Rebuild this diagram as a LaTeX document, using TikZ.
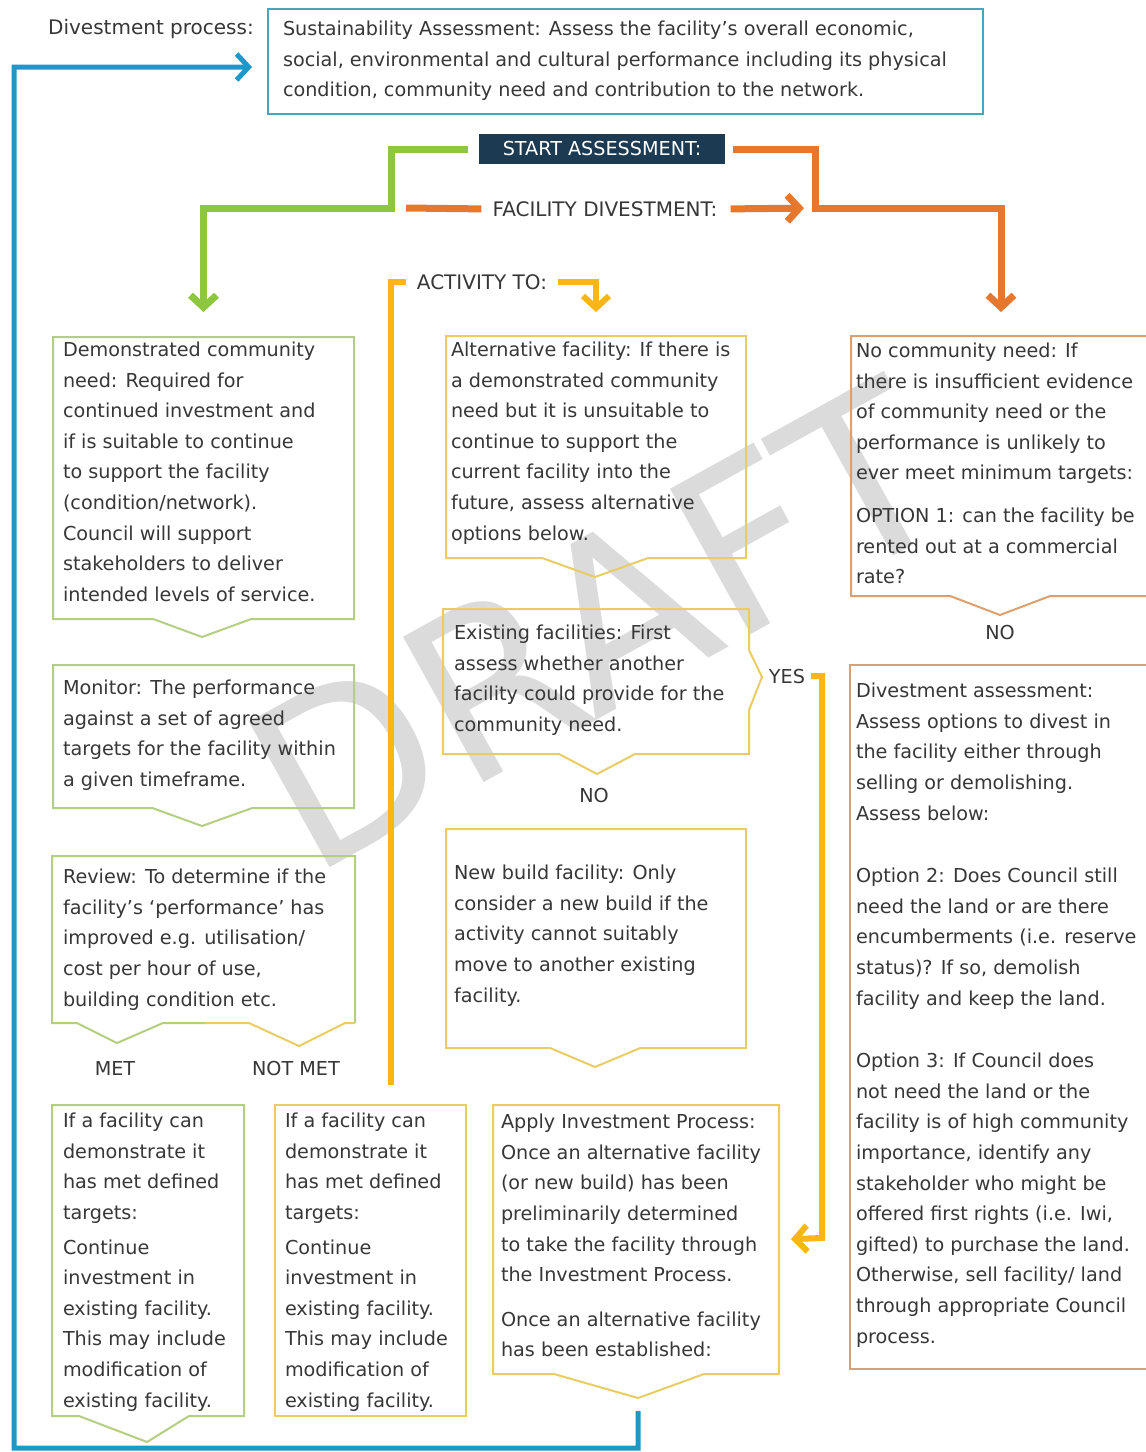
\documentclass[tikz,border=0pt]{standalone}
\usepackage{fontspec}
\setmainfont{DejaVu Sans}
\usepackage{xcolor}
\usetikzlibrary{arrows.meta,positioning,shapes.callouts}
\definecolor{ink}{RGB}{55,55,55}
\definecolor{navy}{RGB}{28,58,82}
\definecolor{leaf}{RGB}{141,198,63}
\definecolor{leafedge}{RGB}{180,206,130}
\definecolor{rust}{RGB}{232,119,46}
\definecolor{rustedge}{RGB}{220,160,112}
\definecolor{gold}{RGB}{249,182,21}
\definecolor{goldedge}{RGB}{233,205,98}
\definecolor{sea}{RGB}{27,154,201}
\definecolor{seaedge}{RGB}{74,164,188}
\tikzset{
  panel/.style n args={4}{inner sep=0pt,anchor=north west,text=ink,line width=2pt,
    execute at begin node={\begin{minipage}[c][#2][t]{#1}\fontsize{19.2}{30.6}\selectfont\raggedright\leftskip=#4\relax\vspace*{#3}},
    execute at end node={\end{minipage}}},
  leafbox/.style={rectangle callout,draw=leafedge},
  goldbox/.style={rectangle callout,draw=goldedge},
  rustbox/.style={rectangle callout,draw=rustedge},
  flatbox/.style={draw=#1},
  rim/.style={line width=2pt,draw=#1},
  navybox/.style={fill=navy,text=white,minimum width=246pt,minimum height=30pt,inner sep=0pt,font=\fontsize{19.2}{24}\selectfont},
  lbl/.style={text=ink,font=\fontsize{20}{24}\selectfont,inner sep=3pt},
  tag/.style={text=ink,font=\fontsize{19.2}{24}\selectfont,inner sep=2pt},
  watermark/.style={text=black!14,font=\fontsize{228}{228}\selectfont,rotate=29},
  greenline/.style={draw=leaf,line width=7pt},
  rustline/.style={draw=rust,line width=7pt},
  goldline/.style={draw=gold,line width=6pt},
  sealine/.style={draw=sea,line width=5pt},
  barb/.style={-{Straight Barb[length=12pt,width=26pt]}}
}

\begin{document}
\begin{tikzpicture}[x=1pt,y=-1pt]
  \useasboundingbox[fill=white] (0,0) rectangle (1146,1452);
  \node (draft) [watermark] at (597,625) {DRAFT};

  \node (divproc) [lbl,anchor=east] at (257,29) {Divestment process:};
  \node (sustain) [panel={715pt}{105pt}{12pt}{15pt},flatbox=seaedge] at (267,8) {Sustainability Assessment: Assess the facility's overall economic,\\ social, environmental and cultural performance including its physical\\ condition, community need and contribution to the network.};
  \node (start) [navybox] at (602,149) {START ASSESSMENT:};
  \node (facdiv) [lbl] at (605,209) {FACILITY DIVESTMENT:};
  \node (activity) [lbl] at (482,282) {ACTIVITY TO:};

  \node (demoneed) [panel={301pt}{282pt}{5pt}{10pt},leafbox,callout absolute pointer={(202,637)},callout pointer width=98pt] at (52,336) {Demonstrated community\\ need: Required for\\ continued investment and\\ if is suitable to continue\\ to support the facility\\ (condition/network).\\ Council will support\\ stakeholders to deliver\\ intended levels of service.};
  \node (monitor) [panel={301pt}{143pt}{15pt}{10pt},leafbox,callout absolute pointer={(202,826)},callout pointer width=100pt,below=44pt of demoneed] {Monitor: The performance\\ against a set of agreed\\ targets for the facility within\\ a given timeframe.};
  \node (review) [panel={301pt}{165pt}{12pt}{10pt},below=47pt of monitor] {Review: To determine if the\\ facility's `performance' has\\ improved e.g. utilisation/\\ cost per hour of use,\\ building condition etc.};
  \node (metlbl) [tag] at (115,1068) {MET};
  \node (notmetlbl) [tag] at (296,1068) {NOT MET};
  \node (metbox) [panel={192pt}{311pt}{8pt}{11pt},leafbox,callout absolute pointer={(147,1442)},callout pointer width=110pt] at (51,1104) {If a facility can\\ demonstrate it\\ has met defined\\ targets:\\[4pt] Continue\\ investment in\\ existing facility.\\ This may include\\ modification of\\ existing facility.};
  \node (notmetbox) [panel={191pt}{311pt}{8pt}{10pt},flatbox=goldedge,right=29pt of metbox] {If a facility can\\ demonstrate it\\ has met defined\\ targets:\\[4pt] Continue\\ investment in\\ existing facility.\\ This may include\\ modification of\\ existing facility.};

  \node (altfac) [panel={300pt}{222pt}{6pt}{5pt},goldbox,callout absolute pointer={(595,577)},callout pointer width=106pt] at (445,335) {Alternative facility: If there is\\ a demonstrated community\\ need but it is unsuitable to\\ continue to support the\\ current facility into the\\ future, assess alternative\\ options below.};
  \node (existing) [panel={304pt}{143pt}{15pt}{10pt}] at (443,609) {Existing facilities: First\\ assess whether another\\ facility could provide for the\\ community need.};
  \node (nolbl) [tag] at (594,795) {NO};
  \node (yeslbl) [tag] at (787,676) {YES};
  \node (newbuild) [panel={300pt}{219pt}{36pt}{8pt},goldbox,callout absolute pointer={(595,1067)},callout pointer width=90pt] at (445,828) {New build facility: Only\\ consider a new build if the\\ activity cannot suitably\\ move to another existing\\ facility.};
  \node (applyinv) [panel={286pt}{269pt}{9pt}{8pt},goldbox,callout absolute pointer={(638,1398)},callout pointer width=150pt] at (492,1104) {Apply Investment Process:\\ Once an alternative facility\\ (or new build) has been\\ preliminarily determined\\ to take the facility through\\ the Investment Process.\\[14pt] Once an alternative facility\\ has been established:};

  \node (nocomm) [panel={300pt}{260pt}{7pt}{5pt},rustbox,callout absolute pointer={(1000,615)},callout pointer width=100pt] at (850,335) {No community need: If\\ there is insufficient evidence\\ of community need or the\\ performance is unlikely to\\ ever meet minimum targets:\\[12pt] OPTION 1: can the facility be\\ rented out at a commercial\\ rate?};
  \node (nolblr) [tag] at (1000,632) {NO};
  \node (divassess) [panel={301pt}{704pt}{18pt}{6pt},flatbox=rustedge] at (849,664) {Divestment assessment:\\ Assess options to divest in\\ the facility either through\\ selling or demolishing.\\ Assess below:\\[32pt] Option 2: Does Council still\\ need the land or are there\\ encumberments (i.e. reserve\\ status)? If so, demolish\\ facility and keep the land.\\[32pt] Option 3: If Council does\\ not need the land or the\\ facility is of high community\\ importance, identify any\\ stakeholder who might be\\ offered first rights (i.e. Iwi,\\ gifted) to purchase the land.\\ Otherwise, sell facility/ land\\ through appropriate Council\\ process.};

  \draw[rim=leafedge] ([xshift=153pt]review.south west) -- ++(-42,0) -- ++(-46,20) -- ++(-40,-20) -- (review.south west) -- (review.north west) -- (review.north east) -- (review.south east);
  \draw[rim=goldedge] (review.south east) -- ++(-10,0) -- ++(-46,23) -- ++(-50,-23) -- ([xshift=153pt]review.south west);
  \draw[rim=goldedge] (existing.south west) -- (existing.north west) -- (existing.north east) -- ++(0,41) -- ++(13,27) -- ++(-13,33) -- (existing.south east) -- ++(-114,0) -- ++(-38,20) -- ++(-38,-20) -- cycle;

  \coordinate (gsplit) at (391,208);
  \coordinate (osplit) at (815,208);
  \coordinate (divstub) at (406,208);
  \coordinate (actfoot) at (391,1085);
  \coordinate (yesbend) at (822,1238);
  \coordinate (loopbr) at (638,1448);
  \coordinate (loopbl) at (14,1448);
  \coordinate (looptl) at (14,67);

  \draw[greenline,barb,shorten <=11pt,shorten >=24pt] (start.west) -| (gsplit) -| (demoneed.north);
  \draw[rustline,barb,shorten <=8pt,shorten >=23pt] (start.east) -| (osplit) -| (nocomm.north);
  \draw[rustline,shorten >=8pt] (divstub) -- (facdiv.west);
  \draw[rustline,barb,shorten <=10pt,shorten >=11pt] (facdiv.east) -- (osplit);
  \draw[goldline,shorten >=8pt] (actfoot) |- (activity.west);
  \draw[goldline,barb,shorten <=8pt,shorten >=23pt] (activity.east) -| (altfac.north);
  \draw[goldline,barb,shorten <=4pt,shorten >=11pt] (yeslbl.east) -| (yesbend) -- (applyinv.east);
  \draw[sealine,barb,shorten <=12pt,shorten >=15pt] (applyinv.pointer) -- (loopbr) -- (loopbl) -- (looptl) -- (looptl -| sustain.west);
\end{tikzpicture}
\end{document}
